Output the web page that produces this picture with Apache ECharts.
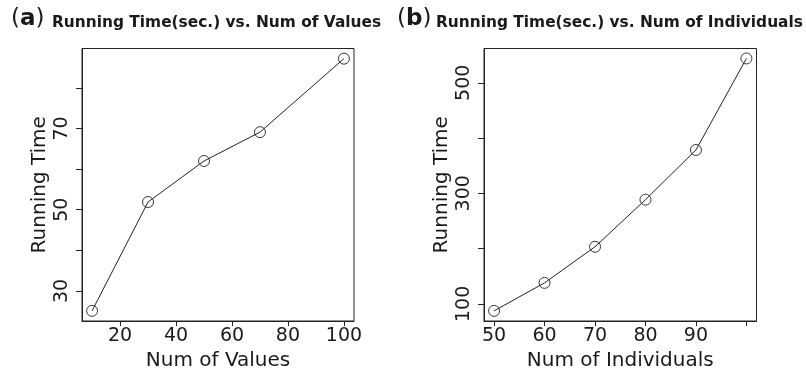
<!DOCTYPE html>
<html>
<head>
<meta charset="utf-8">
<script src="https://cdn.jsdelivr.net/npm/echarts@6/dist/echarts.min.js"></script>
<style>
html,body{margin:0;padding:0;background:#fff;}
#main{width:806px;height:372px;}
</style>
</head>
<body>
<div id="main"></div>
<script>
// Panel (a): Running time vs number of values
var valuesX = [10, 30, 50, 70, 100];
var valuesTime = [25.1, 51.9, 62.0, 69.1, 87.2];
var valuesXTicks = [20, 40, 60, 80, 100];
var valuesXLabels = [20, 40, 60, 80, 100];
var valuesYTicks = [30, 40, 50, 60, 70, 80];
var valuesYLabels = [30, 50, 70];

// Panel (b): Running time vs number of individuals
var indivX = [50, 60, 70, 80, 90, 100];
var indivTime = [87.3, 138, 203.3, 288.5, 378.4, 544];
var indivXTicks = [50, 60, 70, 80, 90, 100];
var indivXLabels = [50, 60, 70, 80, 90];
var indivYTicks = [100, 200, 300, 400, 500];
var indivYLabels = [100, 300, 500];

var titleA = 'Running Time(sec.) vs. Num of Values';
var titleB = 'Running Time(sec.) vs. Num of Individuals';

function pairs(xs, ys) { return xs.map(function (x, i) { return [x, ys[i]]; }); }

var FONT = 'DejaVu Sans';
var TXT = '#1a1a1a';

function xAxisDef(gi, min, max, ticks, labels, name) {
  return {
    type: 'value', gridIndex: gi, min: min, max: max,
    name: name, nameLocation: 'middle', nameGap: 18,
    nameTextStyle: { fontFamily: FONT, fontSize: 20, color: TXT },
    axisLine: { show: true, lineStyle: { color: '#222', width: 1 } },
    axisTick: { show: true, length: 5, inside: false, customValues: ticks, lineStyle: { color: '#222' } },
    axisLabel: { customValues: labels, fontFamily: FONT, fontSize: 19, color: TXT, margin: 6, showMinLabel: true, showMaxLabel: true },
    splitLine: { show: false }
  };
}
function yAxisDef(gi, min, max, ticks, labels, name) {
  return {
    type: 'value', gridIndex: gi, min: min, max: max,
    name: name, nameLocation: 'middle', nameGap: 32, nameRotate: 90,
    nameTextStyle: { fontFamily: FONT, fontSize: 20, color: TXT },
    axisLine: { show: true, lineStyle: { color: '#222', width: 1 } },
    axisTick: { show: true, length: 6, inside: false, customValues: ticks, lineStyle: { color: '#222' } },
    axisLabel: { customValues: labels, rotate: 90, fontFamily: FONT, fontSize: 19, color: TXT, margin: 10 },
    splitLine: { show: false }
  };
}

var markerStyle = { color: 'rgba(0,0,0,0)', borderColor: '#222', borderWidth: 0.9 };

var chart = echarts.init(document.getElementById('main'), null, { renderer: 'canvas' });
chart.setOption({
  animation: false,
  backgroundColor: '#fff',
  graphic: [
    { type: 'text', left: 11, top: 8, style: { text: '{p|(}{b|a}{p|)}', rich: { p: { fontFamily: FONT, fontSize: 23, fill: TXT }, b: { fontFamily: FONT, fontSize: 23, fontWeight: 'bold', fill: TXT } } } },
    { type: 'text', left: 52, top: 15, style: { text: titleA, fontFamily: FONT, fontSize: 15.4, fontWeight: 'bold', fill: TXT } },
    { type: 'text', left: 397, top: 8, style: { text: '{p|(}{b|b}{p|)}', rich: { p: { fontFamily: FONT, fontSize: 23, fill: TXT }, b: { fontFamily: FONT, fontSize: 23, fontWeight: 'bold', fill: TXT } } } },
    { type: 'text', left: 436, top: 15, style: { text: titleB, fontFamily: FONT, fontSize: 15.4, fontWeight: 'bold', fill: TXT } }
  ],
  grid: [
    { left: 82, top: 48.5, width: 272, height: 272.5, show: true, borderColor: '#222', borderWidth: 1, backgroundColor: 'transparent', containLabel: false, outerBoundsMode: 'none' },
    { left: 484, top: 48.5, width: 272.5, height: 272.5, show: true, borderColor: '#222', borderWidth: 1, backgroundColor: 'transparent', containLabel: false, outerBoundsMode: 'none' }
  ],
  xAxis: [
    xAxisDef(0, 6.4, 103.6, valuesXTicks, valuesXLabels, 'Num of Values'),
    xAxisDef(1, 48, 102, indivXTicks, indivXLabels, 'Num of Individuals')
  ],
  yAxis: [
    yAxisDef(0, 22.6, 89.7, valuesYTicks, valuesYLabels, 'Running Time'),
    yAxisDef(1, 69, 562, indivYTicks, indivYLabels, 'Running Time')
  ],
  series: [
    { type: 'line', xAxisIndex: 0, yAxisIndex: 0, data: pairs(valuesX, valuesTime),
      symbol: 'circle', symbolSize: 11, lineStyle: { color: '#222', width: 1 },
      itemStyle: markerStyle },
    { type: 'line', xAxisIndex: 1, yAxisIndex: 1, data: pairs(indivX, indivTime),
      symbol: 'circle', symbolSize: 11, lineStyle: { color: '#222', width: 1 },
      itemStyle: markerStyle }
  ]
});
</script>
</body>
</html>
